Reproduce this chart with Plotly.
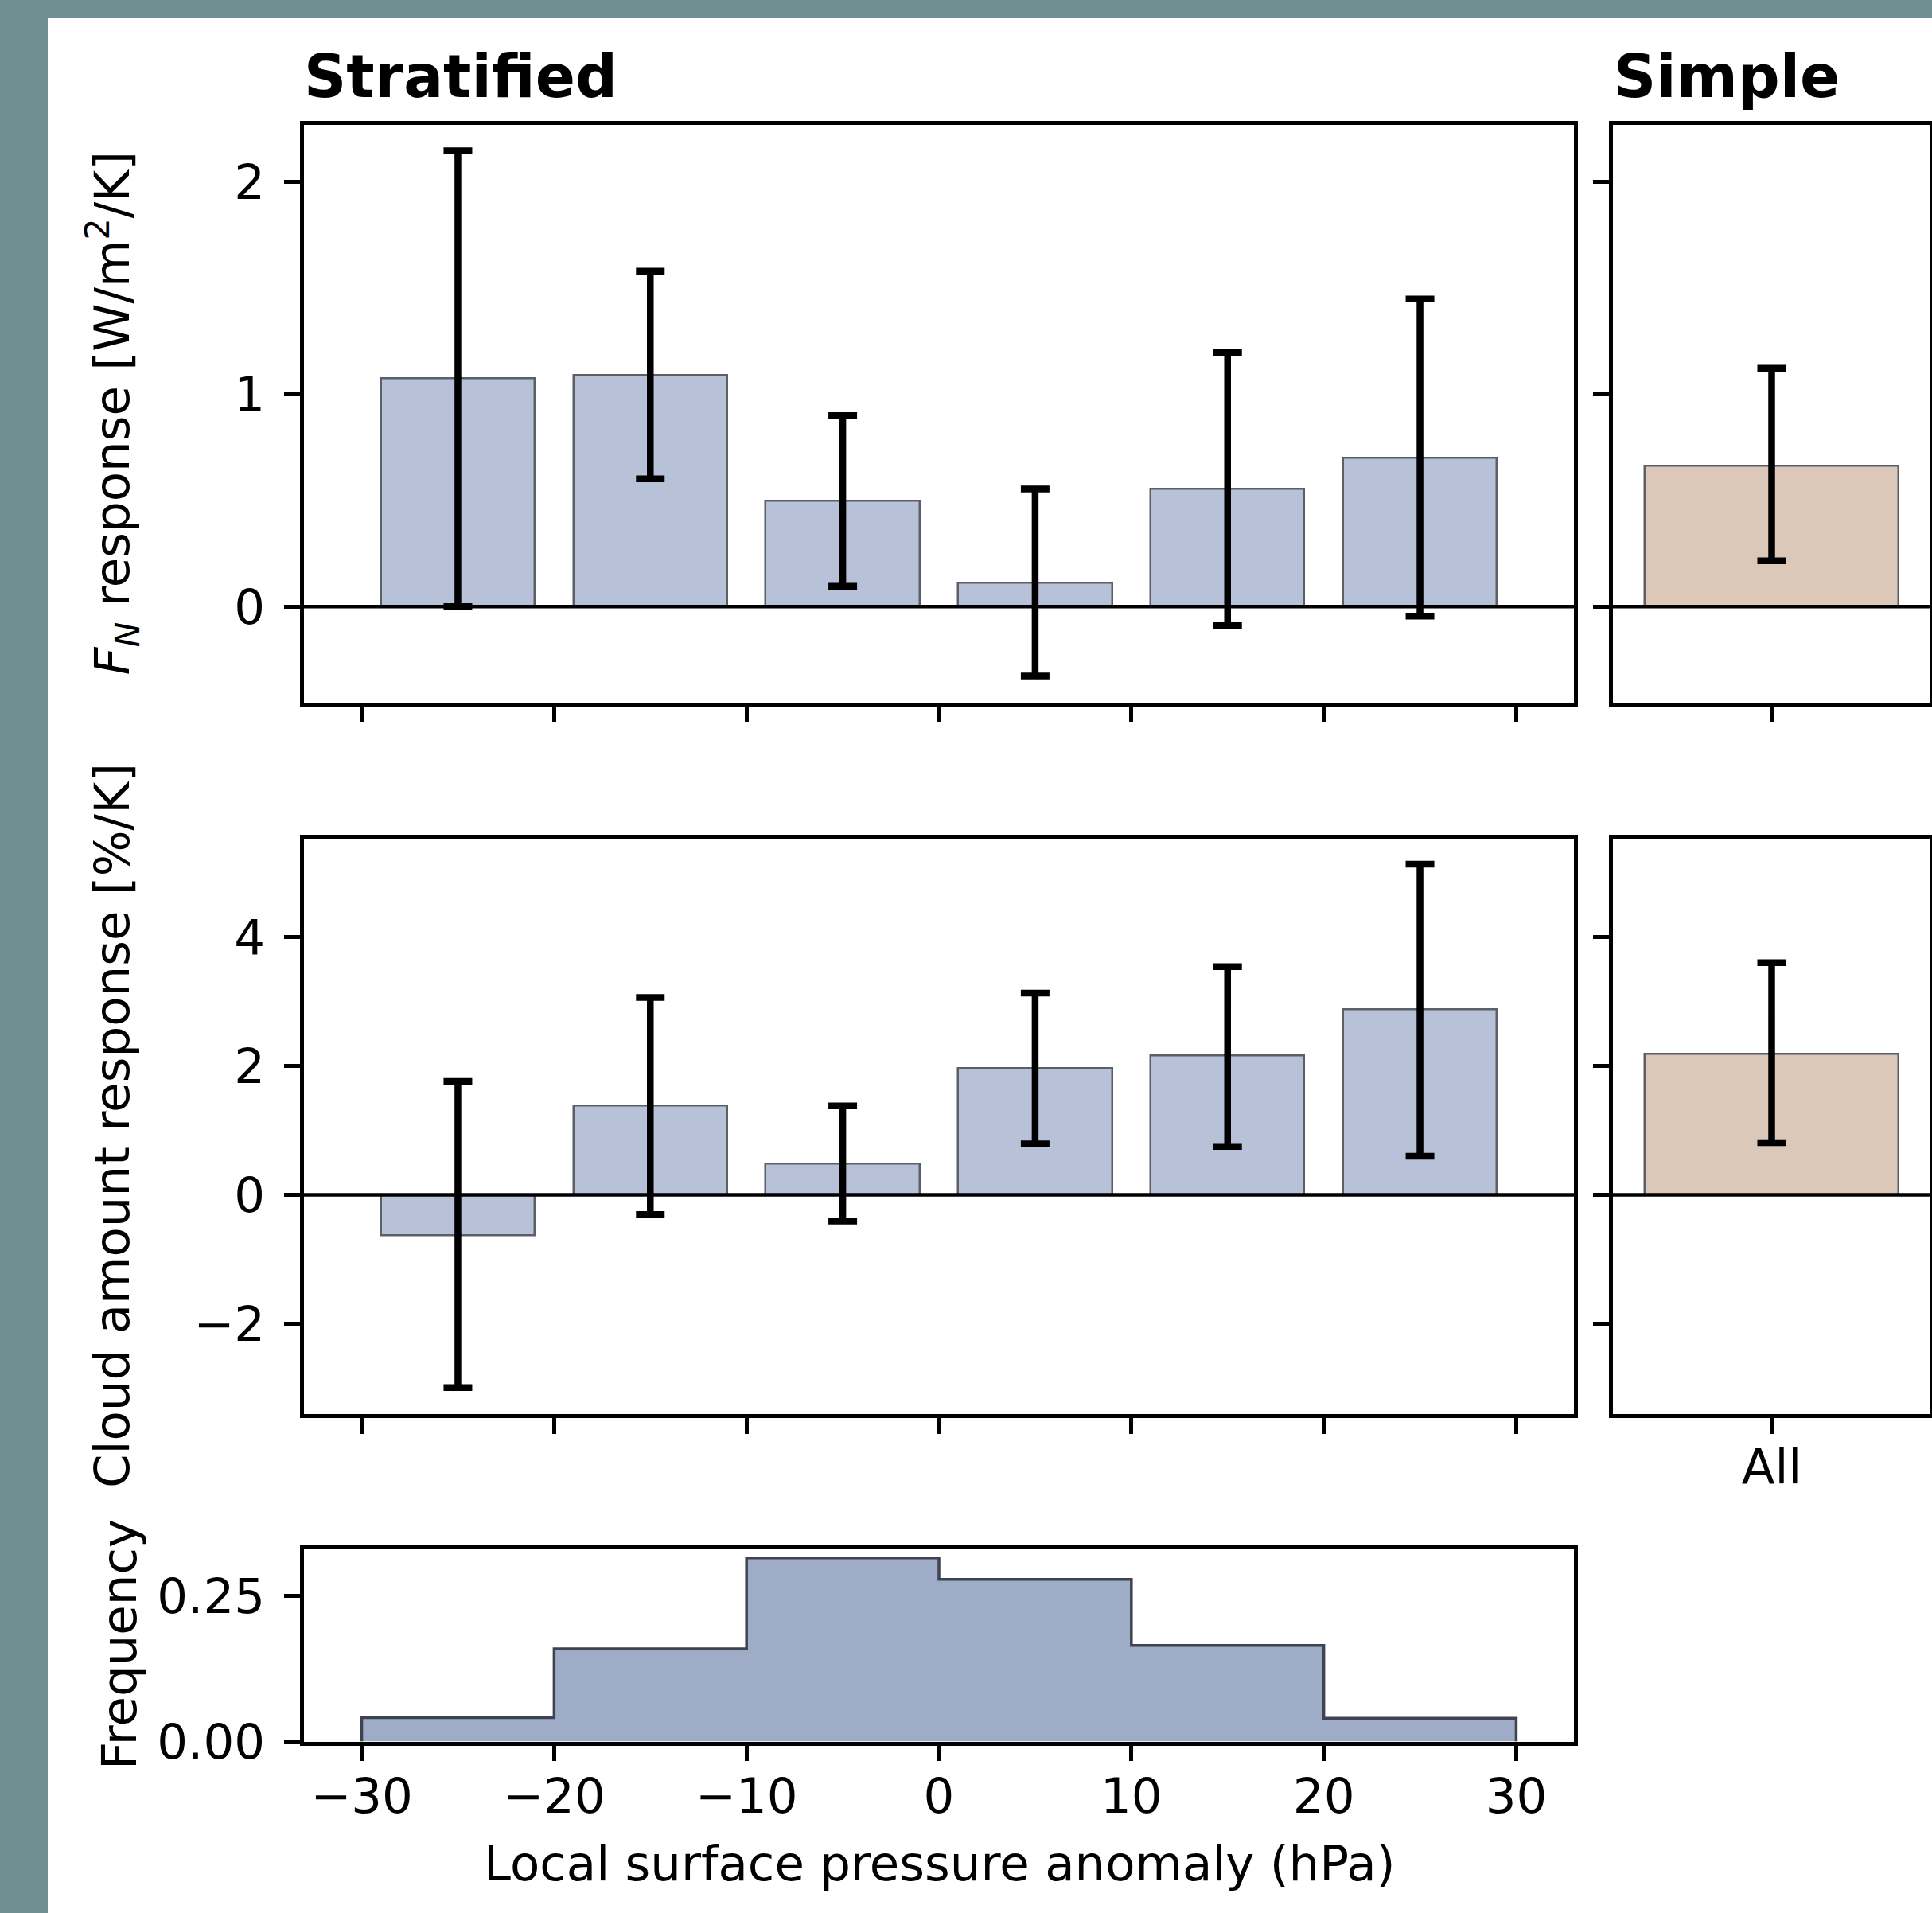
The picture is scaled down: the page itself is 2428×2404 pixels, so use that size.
import plotly.graph_objects as go

# ---------------- data ----------------
bin_centers = [-25, -15, -5, 5, 15, 25]
bar_width = 8

fn_values = [1.073, 1.091, 0.499, 0.113, 0.553, 0.701]
fn_low = [0.0, 0.601, 0.095, -0.327, -0.090, -0.045]
fn_high = [2.146, 1.579, 0.899, 0.553, 1.195, 1.448]

cloud_values = [-0.63, 1.385, 0.478, 1.957, 2.158, 2.88]
cloud_low = [-2.99, -0.305, -0.406, 0.79, 0.749, 0.60]
cloud_high = [1.76, 3.06, 1.38, 3.13, 3.54, 5.13]

simple_cat = ["All"]
simple_fn = [0.663]
simple_fn_low = [0.215]
simple_fn_high = [1.122]
simple_cloud = [2.187]
simple_cloud_low = [0.81]
simple_cloud_high = [3.60]

hist_edges = [-30, -20, -10, 0, 10, 20, 30]
hist_freq = [0.041, 0.159, 0.315, 0.278, 0.165, 0.040]

x_ticks = [-30, -20, -10, 0, 10, 20, 30]
x_ticktext = ["\u221230", "\u221220", "\u221210", "0", "10", "20", "30"]
fn_ticks = [0, 1, 2]
fn_ticktext = ["0", "1", "2"]
cloud_ticks = [-2, 0, 2, 4]
cloud_ticktext = ["\u22122", "0", "2", "4"]
freq_ticks = [0, 0.25]
freq_ticktext = ["0.00", "0.25"]

# ---------------- style ----------------
W, H = 2428, 2404
FONT = "DejaVu Sans"
FS = 61
BG = "#6F8F93"
STRAT_COLOR = "#B7C2D9"
SIMPLE_COLOR = "#DBC8B9"
HIST_COLOR = "#9FACC8"
EDGE = "#5b5f66"


def px(p):
    return p / W


def py(p):
    return 1 - p / H


LEFT = [px(382), px(1978)]
RIGHT = [px(2027), px(2426)]
TOP = [py(882.5), py(156.5)]
MID = [py(1777), py(1053.5)]
BOT = [py(2188.6), py(1946)]

axis_style = dict(
    showline=True, mirror=True, linecolor="black", linewidth=4.5,
    ticks="outside", ticklen=20, tickwidth=4.5, tickcolor="black",
    showgrid=False, zeroline=False, automargin=False,
    tickfont=dict(family=FONT, size=FS, color="black"),
)


def errs(vals, lo, hi):
    return dict(type="data", symmetric=False,
                array=[h - v for v, h in zip(vals, hi)],
                arrayminus=[v - l for v, l in zip(vals, lo)],
                color="black", thickness=8.5, width=18)


fig = go.Figure()

fig.add_trace(go.Bar(x=bin_centers, y=fn_values, width=bar_width,
                     marker=dict(color=STRAT_COLOR, line=dict(color=EDGE, width=2.5)),
                     error_y=errs(fn_values, fn_low, fn_high),
                     xaxis="x", yaxis="y", showlegend=False))
fig.add_trace(go.Bar(x=simple_cat, y=simple_fn, width=0.8,
                     marker=dict(color=SIMPLE_COLOR, line=dict(color=EDGE, width=2.5)),
                     error_y=errs(simple_fn, simple_fn_low, simple_fn_high),
                     xaxis="x2", yaxis="y2", showlegend=False))
fig.add_trace(go.Bar(x=bin_centers, y=cloud_values, width=bar_width,
                     marker=dict(color=STRAT_COLOR, line=dict(color=EDGE, width=2.5)),
                     error_y=errs(cloud_values, cloud_low, cloud_high),
                     xaxis="x3", yaxis="y3", showlegend=False))
fig.add_trace(go.Bar(x=simple_cat, y=simple_cloud, width=0.8,
                     marker=dict(color=SIMPLE_COLOR, line=dict(color=EDGE, width=2.5)),
                     error_y=errs(simple_cloud, simple_cloud_low, simple_cloud_high),
                     xaxis="x4", yaxis="y4", showlegend=False))

# step histogram
step_x = [hist_edges[0]] + hist_edges + [hist_edges[-1]]
step_y = [0] + hist_freq + [hist_freq[-1], 0]
fig.add_trace(go.Scatter(x=step_x, y=step_y, mode="lines", line_shape="hv",
                         line=dict(color="#3d4450", width=3.5),
                         fill="tozeroy", fillcolor=HIST_COLOR,
                         xaxis="x5", yaxis="y5", showlegend=False))

fig.update_layout(
    width=W, height=H, template="none",
    margin=dict(l=0, r=0, t=0, b=0, pad=0),
    paper_bgcolor=BG, plot_bgcolor="white",
    font=dict(family=FONT, color="black"),
    bargap=0,
    xaxis=dict(domain=LEFT, range=[-33, 33], tickvals=x_ticks, showticklabels=False,
               anchor="y", **axis_style),
    yaxis=dict(domain=TOP, range=[-0.451, 2.27], tickvals=fn_ticks, ticktext=fn_ticktext,
               anchor="x", ticklabelstandoff=12, **axis_style),
    xaxis2=dict(domain=RIGHT, range=[-0.5, 0.5], type="category", showticklabels=False,
                anchor="y2", **axis_style),
    yaxis2=dict(domain=TOP, range=[-0.451, 2.27], tickvals=fn_ticks, showticklabels=False,
                anchor="x2", **axis_style),
    xaxis3=dict(domain=LEFT, range=[-33, 33], tickvals=x_ticks, showticklabels=False,
                anchor="y3", **axis_style),
    yaxis3=dict(domain=MID, range=[-3.40, 5.53], tickvals=cloud_ticks, ticktext=cloud_ticktext,
                anchor="x3", ticklabelstandoff=12, **axis_style),
    xaxis4=dict(domain=RIGHT, range=[-0.5, 0.5], type="category", anchor="y4",
                ticklabelstandoff=-11, **axis_style),
    yaxis4=dict(domain=MID, range=[-3.40, 5.53], tickvals=cloud_ticks, showticklabels=False,
                anchor="x4", **axis_style),
    xaxis5=dict(domain=LEFT, range=[-33, 33], tickvals=x_ticks, ticktext=x_ticktext,
                anchor="y5", ticklabelstandoff=-9, **axis_style),
    yaxis5=dict(domain=BOT, range=[0, 0.331], tickvals=freq_ticks, ticktext=freq_ticktext,
                anchor="x5", ticklabelstandoff=12, **axis_style),
)

shapes = [
    dict(type="rect", xref="paper", yref="paper", x0=px(60), x1=1, y0=0, y1=py(22),
         fillcolor="white", line=dict(width=0), layer="below"),
]
for xr, yr in [("x", "y"), ("x2", "y2"), ("x3", "y3"), ("x4", "y4")]:
    shapes.append(dict(type="line", xref=f"{xr} domain", yref=yr, x0=0, x1=1, y0=0, y1=0,
                       line=dict(color="black", width=4.5), layer="above"))
fig.update_layout(shapes=shapes)

ann = [
    dict(text="<b>Stratified</b>", x=px(380), y=py(141), xanchor="left", yanchor="bottom",
         font=dict(size=74)),
    dict(text="<b>Simple</b>", x=px(2026), y=py(141), xanchor="left", yanchor="bottom",
         font=dict(size=74)),
    dict(text="<i>F</i><sub><i>N</i></sub> response [W/m<sup>2</sup>/K]", x=px(140),
         y=py(519.5), xanchor="center", yanchor="middle", textangle=-90, font=dict(size=FS)),
    dict(text="Cloud amount response [%/K]", x=px(140), y=py(1415),
         xanchor="center", yanchor="middle", textangle=-90, font=dict(size=FS)),
    dict(text="Frequency", x=px(149), y=py(2067),
         xanchor="center", yanchor="middle", textangle=-90, font=dict(size=FS)),
    dict(text="Local surface pressure anomaly (hPa)", x=px(1180), y=py(2341),
         xanchor="center", yanchor="middle", font=dict(size=FS)),
]
for a in ann:
    a.update(xref="paper", yref="paper", showarrow=False)
    a["font"] = dict(family=FONT, color="black", size=a["font"]["size"])
fig.update_layout(annotations=ann)

fig.write_html(
    "out.html",
    config={"displayModeBar": False},
    post_script="document.body.style.margin='0';document.body.style.overflow='hidden';"
                "document.body.style.background='" + BG + "';",
)
